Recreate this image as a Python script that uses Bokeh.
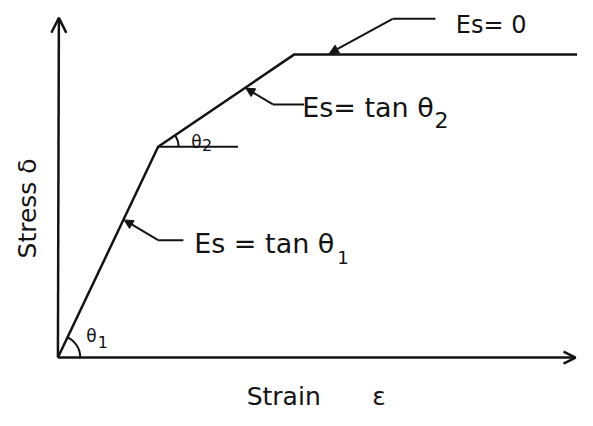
import numpy as np
from bokeh.plotting import figure
from bokeh.models import Range1d, Arrow, OpenHead, NormalHead
from bokeh.core.properties import value
from bokeh.embed import file_html
from bokeh.resources import INLINE

# Idealised trilinear stress-strain curve (arbitrary units)
strain = [0, 103, 243, 534]
stress = [0, 219, 315, 315]

# Axis extents
x_axis_end = 532
y_axis_end = 353

INK = "#131313"
FONT = "DejaVu Sans"

p = figure(width=577, height=410, output_backend="svg", toolbar_location=None,
           x_range=Range1d(-59, 534), y_range=Range1d(-55, 371),
           min_border=0, outline_line_color=None)
p.axis.visible = False
p.grid.visible = False
p.background_fill_color = "white"
p.border_fill_color = "white"

# axes with open arrowheads
p.add_layout(Arrow(end=OpenHead(size=12, line_width=2.5, line_color=INK),
                   x_start=0, y_start=0, x_end=x_axis_end, y_end=0,
                   line_width=2.5, line_color=INK))
p.add_layout(Arrow(end=OpenHead(size=15, line_width=2.5, line_color=INK),
                   x_start=0, y_start=0, x_end=1, y_end=y_axis_end,
                   line_width=2.5, line_color=INK))

# the curve
p.line(strain, stress, line_width=2.5, line_color=INK)

# angle constructions
ang1 = np.arctan2(stress[1] - stress[0], strain[1] - strain[0])
ang2 = np.arctan2(stress[2] - stress[1], strain[2] - strain[1])
p.arc(x=[strain[0]], y=[stress[0]], radius=23, start_angle=0, end_angle=ang1,
      line_width=2, line_color=INK)
p.line([strain[1], strain[1] + 82], [stress[1], stress[1]], line_width=2, line_color=INK)
p.arc(x=[strain[1]], y=[stress[1]], radius=21, start_angle=0, end_angle=ang2,
      line_width=2, line_color=INK)

def txt(x, y, s, size, angle=0.0):
    p.text(x=[x], y=[y], text=[s], text_font=value(FONT), text_font_size=f"{size}px",
           text_color=INK, text_align="left", text_baseline="middle", angle=angle)

txt(29, 22, "θ", 17)
txt(41, 16, "1", 16)
txt(137, 224, "θ", 17)
txt(148, 221, "2", 16)

# leader lines with arrows
leaders = [
    # (tip x, tip y, bend x, bend y, end x)
    (68, 143, 103, 122, 129),
    (193, 280, 221, 263, 253),
    (279, 316, 344, 352, 388),
]
for tx, ty, bx, by, ex in leaders:
    p.line([bx, ex], [by, by], line_width=2, line_color=INK)
    p.add_layout(Arrow(end=NormalHead(size=9, fill_color=INK, line_color=INK, line_width=1),
                       x_start=bx, y_start=by, x_end=tx, y_end=ty,
                       line_width=2, line_color=INK))

# labels
txt(140, 119, "Es = tan θ", 27)
txt(287, 104, "1", 18)
txt(251, 260, "Es= tan θ", 27)
txt(387, 247, "2", 22)
txt(409, 346, "Es= 0", 24)

# axis titles
txt(194, -40, "Strain", 25)
txt(323, -40, "ε", 25)
txt(-31, 103, "Stress δ", 25, angle=np.pi / 2)

open("out.html", "w").write(file_html(p, INLINE))
